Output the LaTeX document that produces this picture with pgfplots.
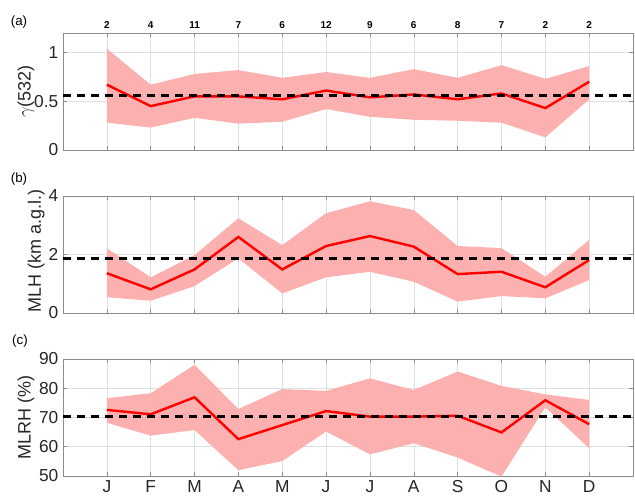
\documentclass[border=0pt]{standalone}
\usepackage{pgfplots}
\pgfplotsset{compat=1.18}
\usepgfplotslibrary{fillbetween}
\usepackage{fontspec}
\setmainfont{Liberation Sans}
\definecolor{bandred}{RGB}{252,176,176}
\pgfplotsset{
  panel/.style={
    scale only axis, width=427.5pt, height=87.75pt,
    xmin=0, xmax=13, xtick={1,...,12},
    grid=major, grid style={black!12, line width=0.4pt},
    axis line style={black!45}, tick style={black!45, line width=0.4pt},
    tick align=inside, major tick length=3pt,
    /pgf/number format/assume math mode=true,
    ticklabel style={font=\fontsize{13}{13}\selectfont, color=black!85},
    ylabel style={font=\fontsize{13.5}{14}\selectfont, color=black!85, at={(axis description cs:-0.065,0.5)}, anchor=center},
  },
  meanline/.style={red, line width=1.8pt},
  refline/.style={black, line width=2.3pt, dash pattern=on 6pt off 4.5pt},
}
\begin{document}
\begin{tikzpicture}
% ---------------- panel (a)
\begin{axis}[panel, at={(47.25pt,-112.5pt)}, anchor=south west,
  ymin=0, ymax=1.2, ytick={0,0.5,1},
  xticklabel pos=upper,
  xticklabels={2,4,11,7,6,12,9,6,8,7,2,2},
  xticklabel style={font=\bfseries\fontsize{7.5}{8}\selectfont, color=black},
  ylabel={$\gamma$(532)}]
\addplot[name path=au, draw=none] coordinates {(1,1.04) (2,0.67) (3,0.78) (4,0.82) (5,0.74) (6,0.80) (7,0.74) (8,0.83) (9,0.74) (10,0.87) (11,0.73) (12,0.86)};
\addplot[name path=al, draw=none] coordinates {(1,0.28) (2,0.23) (3,0.33) (4,0.27) (5,0.29) (6,0.42) (7,0.34) (8,0.31) (9,0.30) (10,0.28) (11,0.13) (12,0.52)};
\addplot[bandred, draw=none] fill between[of=au and al];
\addplot[meanline] coordinates {(1,0.67) (2,0.45) (3,0.55) (4,0.55) (5,0.52) (6,0.61) (7,0.54) (8,0.57) (9,0.52) (10,0.58) (11,0.43) (12,0.70)};
\addplot[refline] coordinates {(0,0.555) (13,0.555)};
\end{axis}
% ---------------- panel (b)
\begin{axis}[panel, at={(47.25pt,-234.75pt)}, anchor=south west,
  ymin=0, ymax=4, ytick={0,2,4},
  xticklabels={},
  ylabel style={at={(axis description cs:-0.047,0.53)}},
  ylabel={MLH (km a.g.l.)}]
\addplot[name path=bu, draw=none] coordinates {(1,2.21) (2,1.22) (3,1.98) (4,3.24) (5,2.32) (6,3.41) (7,3.82) (8,3.52) (9,2.29) (10,2.22) (11,1.24) (12,2.50)};
\addplot[name path=bl, draw=none] coordinates {(1,0.54) (2,0.42) (3,0.92) (4,1.87) (5,0.67) (6,1.22) (7,1.41) (8,1.07) (9,0.39) (10,0.58) (11,0.50) (12,1.13)};
\addplot[bandred, draw=none] fill between[of=bu and bl];
\addplot[meanline] coordinates {(1,1.36) (2,0.81) (3,1.49) (4,2.60) (5,1.49) (6,2.29) (7,2.63) (8,2.27) (9,1.33) (10,1.41) (11,0.88) (12,1.81)};
\addplot[refline] coordinates {(0,1.86) (13,1.86)};
\end{axis}
% ---------------- panel (c)
\begin{axis}[panel, at={(47.25pt,-357pt)}, anchor=south west,
  ymin=50, ymax=90, ytick={50,60,70,80,90},
  xticklabels={J,F,M,A,M,J,J,A,S,O,N,D},
  ylabel={MLRH (\%)}]
\addplot[name path=cu, draw=none] coordinates {(1,76.6) (2,78.3) (3,88.0) (4,72.9) (5,79.7) (6,79.1) (7,83.4) (8,79.4) (9,85.7) (10,80.8) (11,77.9) (12,76.0)};
\addplot[name path=cl, draw=none] coordinates {(1,68.2) (2,63.8) (3,65.7) (4,52.0) (5,55.1) (6,65.2) (7,57.4) (8,61.2) (9,56.3) (10,49.8) (11,73.5) (12,59.5)};
\addplot[bandred, draw=none] fill between[of=cu and cl];
\addplot[meanline] coordinates {(1,72.6) (2,71.1) (3,76.9) (4,62.6) (5,67.4) (6,72.2) (7,70.3) (8,70.3) (9,70.6) (10,64.9) (11,75.9) (12,67.7)};
\addplot[refline] coordinates {(0,70.3) (13,70.3)};
\end{axis}
\node[font=\fontsize{10}{10}\selectfont] at (14.25pt,-16.5pt) {(a)};
\node[font=\fontsize{10}{10}\selectfont] at (14.25pt,-134.25pt) {(b)};
\node[font=\fontsize{10}{10}\selectfont] at (15pt,-255.75pt) {(c)};
\pgfresetboundingbox
\useasboundingbox (0pt,0pt) rectangle (476.25pt,-374.25pt);
\end{tikzpicture}
\end{document}
